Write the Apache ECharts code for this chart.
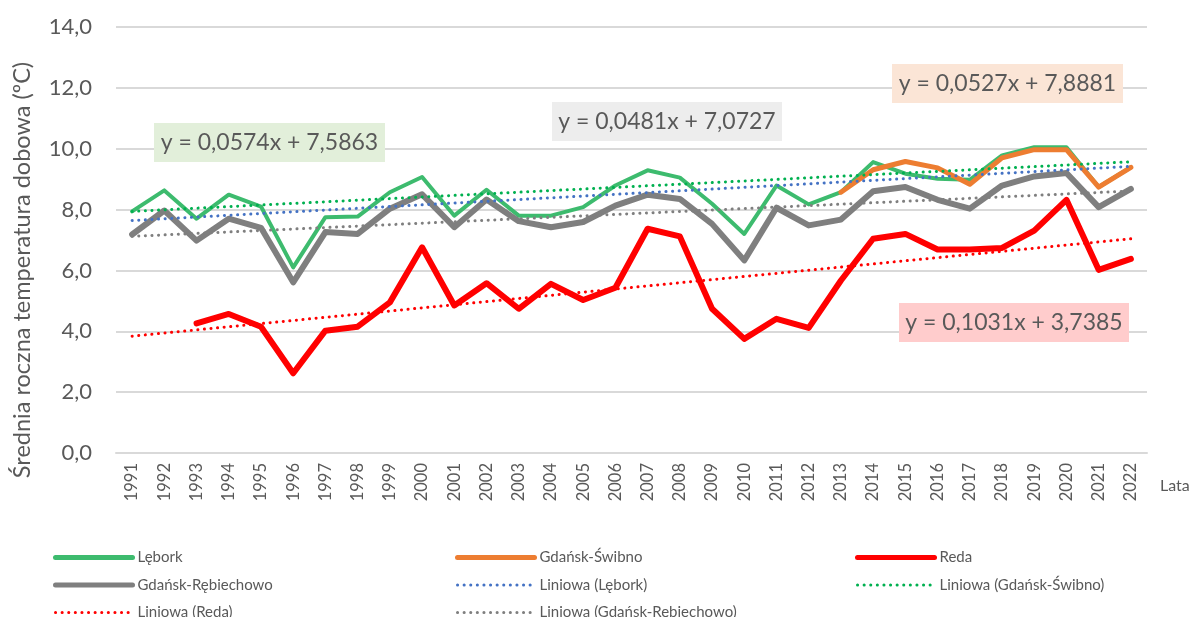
<!DOCTYPE html>
<html>
<head>
<meta charset="utf-8">
<script src="https://cdn.jsdelivr.net/npm/echarts@6/dist/echarts.min.js"></script>
<style>
html,body{margin:0;padding:0;background:#fff;}
#chart{width:1192px;height:617px;}
</style>
</head>
<body>
<div id="chart"></div>
<script>
// ---- data ----
const years = ['1991','1992','1993','1994','1995','1996','1997','1998','1999','2000','2001','2002','2003','2004','2005','2006','2007','2008','2009','2010','2011','2012','2013','2014','2015','2016','2017','2018','2019','2020','2021','2022'];
const lebork = [7.94,8.63,7.70,8.49,8.10,6.10,7.75,7.77,8.57,9.07,7.80,8.65,7.80,7.80,8.08,8.79,9.29,9.05,8.19,7.20,8.79,8.17,8.57,9.56,9.18,9.01,8.98,9.78,10.05,10.05,8.74,9.39];
const swibno = [null,null,null,null,null,null,null,null,null,null,null,null,null,null,null,null,null,null,null,null,null,null,8.57,9.31,9.58,9.37,8.83,9.70,9.97,9.97,8.74,9.39];
const reda = [null,null,4.26,4.57,4.15,2.62,4.02,4.15,4.95,6.76,4.85,5.58,4.74,5.56,5.03,5.43,7.37,7.12,4.74,3.75,4.41,4.11,5.67,7.04,7.20,6.69,6.69,6.74,7.31,8.32,6.02,6.38];
const rebiechowo = [7.18,7.97,6.98,7.70,7.40,5.61,7.26,7.20,8.03,8.50,7.42,8.33,7.62,7.42,7.59,8.13,8.49,8.35,7.53,6.33,8.06,7.48,7.67,8.60,8.74,8.32,8.03,8.79,9.09,9.20,8.08,8.68];
// linear trend lines: values at first and last year
const trendLebork = [7.64, 9.42];
const trendSwibno = [7.94, 9.57];
const trendReda = [3.84, 7.04];
const trendRebiechowo = [7.12, 8.61];
const equations = ['y = 0,0574x + 7,5863','y = 0,0481x + 7,0727','y = 0,0527x + 7,8881','y = 0,1031x + 3,7385'];
const yTicks = {min: 0, max: 14, interval: 2};
const yTitle = 'Średnia roczna temperatura dobowa (ºC)';
const xTitle = 'Lata';

const FONT = 'Lato';
const TXT = '#595959';
const chart = echarts.init(document.getElementById('chart'), null, {renderer:'canvas'});
const DOT = [0.1, 6.5];

function trend(name, color, ends){
  return {name, type:'line', data:[[years[0], ends[0]],[years[years.length-1], ends[1]]],
    symbol:'none', lineStyle:{color, width:3, type:DOT, cap:'round'}, itemStyle:{color}, z:5, silent:true};
}
function main(name, color, data, width, z){
  return {name, type:'line', data, symbol:'none', connectNulls:false,
    lineStyle:{color, width, join:'round', cap:'round'}, itemStyle:{color}, z, silent:true};
}
function box(cx, cy, w, h, bg, text){
  return {type:'group', x:cx, y:cy, children:[
    {type:'rect', shape:{x:-w/2, y:-h/2, width:w, height:h}, style:{fill:bg}, z:10},
    {type:'text', x:0, y:0, style:{text, fill:TXT, font:'23px '+FONT, align:'center', verticalAlign:'middle'}, z:11}
  ]};
}
const legendCommon = {orient:'vertical', itemWidth:77, itemHeight:14, itemGap:12.5, top:550, height:100, padding:0,
  textStyle:{color:TXT, fontFamily:FONT, fontSize:15, lineHeight:14}, itemStyle:{opacity:0}, selectedMode:false};
function litem(n, w){ return {name:n, lineStyle:{width:w}}; }

chart.setOption({
  animation:false,
  grid:{left:116, right:45, top:27, bottom:164, containLabel:false},
  xAxis:{type:'category', data:years, boundaryGap:true,
    axisLine:{lineStyle:{color:'#d9d9d9', width:2}}, axisTick:{show:false},
    axisLabel:{rotate:90, color:TXT, fontFamily:FONT, fontSize:16.5, margin:10, interval:0}},
  yAxis:{type:'value', min:yTicks.min, max:yTicks.max, interval:yTicks.interval,
    axisLine:{show:false}, axisTick:{show:false},
    splitLine:{lineStyle:{color:'#d9d9d9', width:2}},
    axisLabel:{color:TXT, fontFamily:FONT, fontSize:22, margin:24, formatter:v=>v.toFixed(1).replace('.',',')}},
  legend:[
    Object.assign({left:53, data:[litem('Lębork',5), litem('Gdańsk-Rębiechowo',5), litem('Liniowa (Reda)',3)]}, legendCommon),
    Object.assign({left:455, data:[litem('Gdańsk-Świbno',5), litem('Liniowa (Lębork)',3), litem('Liniowa (Gdańsk-Rębiechowo)',3)]}, legendCommon),
    Object.assign({left:855, data:[litem('Reda',5), litem('Liniowa (Gdańsk-Świbno)',3)]}, legendCommon)
  ],
  graphic:[
    {type:'text', x:22, y:270, rotation:Math.PI/2, style:{text:yTitle, fill:TXT, font:'23.5px '+FONT, align:'center', verticalAlign:'middle'}},
    {type:'text', left:1160, top:478, style:{text:xTitle, fill:TXT, font:'16px '+FONT}},
    box(269.5, 142.5, 231, 39, '#e2efda', equations[0]),
    box(667, 121.5, 230, 39, '#ededed', equations[1]),
    box(1007.5, 83.5, 231, 39, '#fbe5d6', equations[2]),
    box(1014, 322.5, 230, 39, '#ffcccc', equations[3])
  ],
  series:[
    main('Lębork', '#3dbb6e', lebork, 4, 2),
    main('Gdańsk-Świbno', '#ed7d31', swibno, 5, 3),
    main('Reda', '#ff0000', reda, 6, 2),
    main('Gdańsk-Rębiechowo', '#7f7f7f', rebiechowo, 6, 2),
    trend('Liniowa (Lębork)', '#4472c4', trendLebork),
    trend('Liniowa (Gdańsk-Świbno)', '#00b050', trendSwibno),
    trend('Liniowa (Reda)', '#ff0000', trendReda),
    trend('Liniowa (Gdańsk-Rębiechowo)', '#7f7f7f', trendRebiechowo)
  ]
});
</script>
</body>
</html>
